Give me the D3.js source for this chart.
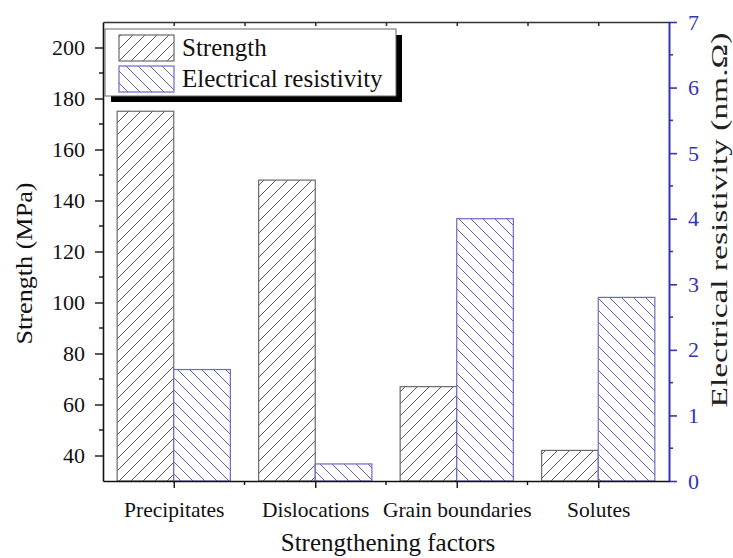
<!DOCTYPE html>
<html>
<head>
<meta charset="utf-8">
<script src="https://cdn.jsdelivr.net/npm/d3@7"></script>
<style>
  html, body { margin: 0; padding: 0; background: #fff; }
  svg { display: block; }
  text { font-family: "Liberation Serif", "Times New Roman", serif; }
</style>
</head>
<body>
<svg id="chart" width="733" height="558"></svg>
<script>
// Strengthening contributions and their electrical resistivity
const categories = ["Precipitates", "Dislocations", "Grain boundaries", "Solutes"];
const strength = [175, 148, 67, 42];          // MPa
const resistivity = [1.7, 0.26, 4.0, 2.8];    // nm.Ω
const strengthTicks = [40, 60, 80, 100, 120, 140, 160, 180, 200];
const resistivityTicks = [0, 1, 2, 3, 4, 5, 6, 7];
const seriesNames = ["Strength", "Electrical resistivity"];

const svg = d3.select("#chart");
const W = 733, H = 558;
const plot = { left: 103, right: 669, top: 22, bottom: 481 };
const blue = "#3535b0";
const serif = "'Liberation Serif', 'Times New Roman', serif";

svg.append("rect").attr("width", W).attr("height", H).attr("fill", "#fff");

// hatch fills
const defs = svg.append("defs");
function hatch(id, color, forward) {
  const p = defs.append("pattern")
    .attr("id", id).attr("patternUnits", "userSpaceOnUse")
    .attr("width", 12).attr("height", 12);
  p.append("rect").attr("width", 12).attr("height", 12).attr("fill", "#fff");
  p.append("path")
    .attr("d", forward
      ? "M-3,3 l6,-6 M0,12 l12,-12 M9,15 l6,-6"
      : "M-3,9 l6,6 M0,0 l12,12 M9,-3 l6,6")
    .attr("stroke", color).attr("stroke-width", 1).attr("fill", "none");
}
hatch("hatchStrength", "#5a5a5a", true);
hatch("hatchRes", "#6262b8", false);

// scales
const x = d3.scaleLinear().domain([0.5, 4.5]).range([plot.left, plot.right]);
const yL = d3.scaleLinear().domain([30, 210]).range([plot.bottom, plot.top]);
const yR = d3.scaleLinear().domain([0, 7]).range([plot.bottom, plot.top]);
const barW = x(0.4) - x(0);

// bars
const g = svg.append("g");
g.selectAll("rect.s").data(strength).join("rect")
  .attr("class", "s")
  .attr("x", (d, i) => x(i + 1) - barW)
  .attr("y", d => yL(d))
  .attr("width", barW)
  .attr("height", d => yL(30) - yL(d))
  .attr("fill", "url(#hatchStrength)")
  .attr("stroke", "#6a6a6a").attr("stroke-width", 1.2);

g.selectAll("rect.r").data(resistivity).join("rect")
  .attr("class", "r")
  .attr("x", (d, i) => x(i + 1))
  .attr("y", d => yR(d))
  .attr("width", barW)
  .attr("height", d => yR(0) - yR(d))
  .attr("fill", "url(#hatchRes)")
  .attr("stroke", "#6a6ac4").attr("stroke-width", 1.2);

// left axis
const leftAxis = d3.axisLeft(yL).tickValues(strengthTicks).tickSize(8).tickPadding(10).tickSizeOuter(0);
const gl = svg.append("g").attr("transform", `translate(${plot.left},0)`).call(leftAxis);
gl.select(".domain").attr("stroke", "#111").attr("stroke-width", 1.6);
gl.selectAll(".tick line").attr("stroke", "#111").attr("stroke-width", 1.4);
gl.selectAll(".tick text").attr("font-family", serif).attr("font-size", 22).attr("fill", "#111");
gl.selectAll(".minor").data(d3.range(50, 200, 20)).join("line")
  .attr("x1", 0).attr("x2", -4).attr("y1", d => yL(d)).attr("y2", d => yL(d))
  .attr("stroke", "#111").attr("stroke-width", 1.4);

// right axis
const rightAxis = d3.axisRight(yR).tickValues(resistivityTicks).tickFormat(d3.format("d"))
  .tickSize(8).tickPadding(11).tickSizeOuter(0);
const gr = svg.append("g").attr("transform", `translate(${plot.right},0)`).call(rightAxis);
gr.select(".domain").attr("stroke", blue).attr("stroke-width", 2);
gr.selectAll(".tick line").attr("stroke", blue).attr("stroke-width", 1.6);
gr.selectAll(".tick text").attr("font-family", serif).attr("font-size", 22).attr("fill", blue);
gr.selectAll(".minor").data(d3.range(0.5, 7, 1)).join("line")
  .attr("x1", 0).attr("x2", 4).attr("y1", d => yR(d)).attr("y2", d => yR(d))
  .attr("stroke", blue).attr("stroke-width", 1.6);

// bottom axis
const bottomAxis = d3.axisBottom(x).tickValues([1, 2, 3, 4]).tickSize(7).tickPadding(14)
  .tickFormat((d) => categories[d - 1]).tickSizeOuter(0);
const gb = svg.append("g").attr("transform", `translate(0,${plot.bottom})`).call(bottomAxis);
gb.select(".domain").attr("stroke", "#111").attr("stroke-width", 1.6);
gb.selectAll(".tick line").attr("stroke", "#111").attr("stroke-width", 1.4);
gb.selectAll(".tick text").attr("font-family", serif).attr("font-size", 21.5).attr("fill", "#111");
gb.selectAll(".minor").data([1.5, 2.5, 3.5]).join("line")
  .attr("x1", d => x(d)).attr("x2", d => x(d)).attr("y1", 0).attr("y2", 4)
  .attr("stroke", "#111").attr("stroke-width", 1.4);

// top frame with small inward ticks
const topAxis = d3.axisTop(x).tickValues([1, 1.5, 2, 2.5, 3, 3.5, 4]).tickSize(-4).tickFormat("").tickSizeOuter(0);
const gt = svg.append("g").attr("transform", `translate(0,${plot.top})`).call(topAxis);
gt.select(".domain").attr("stroke", "#333").attr("stroke-width", 1.6);
gt.selectAll(".tick line").attr("stroke", "#333").attr("stroke-width", 1.6);

// axis titles
svg.append("text")
  .attr("transform", `translate(24,${(plot.top + plot.bottom) / 2 + 12}) rotate(-90)`)
  .attr("text-anchor", "middle").attr("dominant-baseline", "central")
  .attr("font-size", 23).attr("fill", "#111")
  .attr("textLength", 162).attr("lengthAdjust", "spacingAndGlyphs")
  .text("Strength (MPa)");

svg.append("text")
  .attr("transform", `translate(719,220) rotate(-90)`)
  .attr("text-anchor", "middle").attr("dominant-baseline", "central")
  .attr("font-size", 24).attr("fill", "#222")
  .attr("textLength", 375).attr("lengthAdjust", "spacingAndGlyphs")
  .text("Electrical resistivity (nm.Ω)");

svg.append("text")
  .attr("x", (plot.left + plot.right) / 2 + 2).attr("y", 551)
  .attr("text-anchor", "middle")
  .attr("font-size", 25).attr("fill", "#111")
  .text("Strengthening factors");

// legend
const lg = svg.append("g");
const lb = { x: 105, y: 29, w: 291, h: 67 };
lg.append("rect").attr("x", lb.x + 6).attr("y", lb.y + 6).attr("width", lb.w).attr("height", lb.h).attr("fill", "#000");
lg.append("rect").attr("x", lb.x).attr("y", lb.y).attr("width", lb.w).attr("height", lb.h)
  .attr("fill", "#fff").attr("stroke", "#666").attr("stroke-width", 1);
const legendRows = [
  { name: seriesNames[0], fill: "url(#hatchStrength)", stroke: "#6a6a6a" },
  { name: seriesNames[1], fill: "url(#hatchRes)", stroke: "#6a6ac4" }
];
legendRows.forEach((r, i) => {
  const y0 = lb.y + 6 + i * 31;
  lg.append("rect").attr("x", lb.x + 14).attr("y", y0).attr("width", 55).attr("height", 26)
    .attr("fill", r.fill).attr("stroke", r.stroke).attr("stroke-width", 1.2);
  lg.append("text").attr("x", lb.x + 77).attr("y", y0 + 21)
    .attr("font-size", 25).attr("fill", "#111").text(r.name);
});
</script>
</body>
</html>
